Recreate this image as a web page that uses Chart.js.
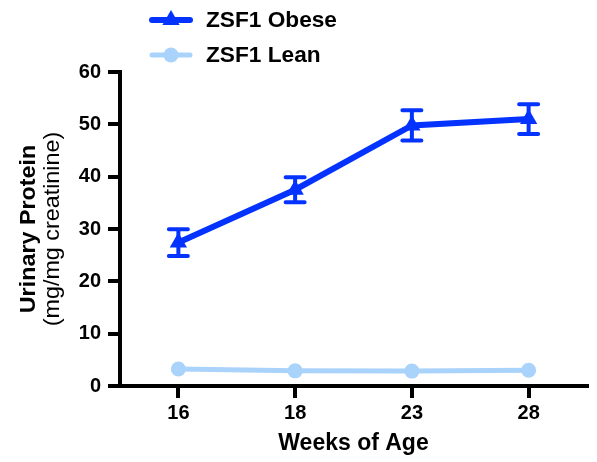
<!DOCTYPE html>
<html><head><meta charset="utf-8">
<script src="https://cdn.jsdelivr.net/npm/chart.js@4/dist/chart.umd.min.js"></script>
<style>html,body{margin:0;padding:0;background:#fff}</style>
</head><body>
<canvas id="c" width="597" height="462"></canvas>
<script>
// ---- data ----
const weeks = ['16', '18', '23', '28'];
const obeseMean = [27.4, 37.5, 49.8, 51.0];
const obeseErr = [2.55, 2.4, 2.9, 2.85];
const leanMean = [3.25, 2.9, 2.85, 3.0];
const seriesNames = ['ZSF1 Obese', 'ZSF1 Lean'];
const yMin = 0, yMax = 60, yStep = 10;
const xTitle = 'Weeks of Age';
const yTitle = ['Urinary Protein', '(mg/mg creatinine)'];

// ---- styles ----
const FONT = '"Liberation Sans", Arial, Helvetica, sans-serif';
const OBESE = '#0433FF';
const LEAN = '#A9D3FB';

const errorBars = {
  id: 'errorBars',
  afterDatasetsDraw(chart) {
    const ctx = chart.ctx, ys = chart.scales.y;
    chart.data.datasets.forEach((ds, i) => {
      if (!ds.errors) return;
      const meta = chart.getDatasetMeta(i);
      ctx.save();
      ctx.strokeStyle = ds.borderColor; ctx.lineWidth = 4; ctx.lineCap = 'round';
      meta.data.forEach((pt, j) => {
        const v = ds.data[j], e = ds.errors[j];
        const yt = ys.getPixelForValue(v + e), yb = ys.getPixelForValue(v - e);
        ctx.beginPath();
        ctx.moveTo(pt.x, yt); ctx.lineTo(pt.x, yb);
        ctx.moveTo(pt.x - 9.5, yt); ctx.lineTo(pt.x + 9.5, yt);
        ctx.moveTo(pt.x - 9.5, yb); ctx.lineTo(pt.x + 9.5, yb);
        ctx.stroke();
      });
      ctx.restore();
    });
  }
};

const customText = {
  id: 'customText',
  afterDraw(chart) {
    const ctx = chart.ctx;
    const ca = chart.chartArea;
    ctx.save();
    // legend
    const items = chart.data.datasets;
    const lx0 = 152, lx1 = 190, lxm = 171, tx = 206;
    const rows = [20, 55];
    items.forEach((ds, i) => {
      const y = rows[i];
      ctx.strokeStyle = ds.borderColor; ctx.lineWidth = ds.borderWidth; ctx.lineCap = 'round';
      ctx.beginPath(); ctx.moveTo(lx0, y); ctx.lineTo(lx1, y); ctx.stroke();
      ctx.fillStyle = ds.borderColor;
      ctx.beginPath();
      if (ds.pointStyle === 'triangle') {
        const r = ds.pointRadius;
        for (let k = 0; k < 3; k++) {
          const a = k * 2 * Math.PI / 3;
          const px = lxm + Math.sin(a) * r, py = y - Math.cos(a) * r;
          k ? ctx.lineTo(px, py) : ctx.moveTo(px, py);
        }
        ctx.closePath();
      } else {
        ctx.arc(lxm, y, ds.pointRadius, 0, Math.PI * 2);
      }
      ctx.fill();
      ctx.fillStyle = '#000';
      ctx.font = 'bold 22px ' + FONT;
      ctx.textBaseline = 'middle'; ctx.textAlign = 'left';
      ctx.save();
      ctx.translate(tx, y + 1);
      ctx.scale(1.03, 1);
      ctx.fillText(seriesNames[i], 0, 0);
      ctx.restore();
    });
    // y axis title
    const cy = (ca.top + ca.bottom) / 2;
    ctx.translate(0, cy);
    ctx.rotate(-Math.PI / 2);
    ctx.scale(1.06, 1);
    ctx.textAlign = 'center'; ctx.textBaseline = 'middle';
    ctx.font = 'bold 22px ' + FONT;
    ctx.fillText(yTitle[0], 0, 29);
    ctx.font = '22px ' + FONT;
    ctx.fillText(yTitle[1], 0, 53);
    ctx.restore();
  }
};

new Chart(document.getElementById('c'), {
  type: 'line',
  data: {
    labels: weeks,
    datasets: [
      { label: seriesNames[0], data: obeseMean, errors: obeseErr,
        borderColor: OBESE, backgroundColor: OBESE, borderWidth: 6,
        pointStyle: 'triangle', pointRadius: 10, pointBorderWidth: 0,
        pointBackgroundColor: OBESE, tension: 0, clip: false },
      { label: seriesNames[1], data: leanMean,
        borderColor: LEAN, backgroundColor: LEAN, borderWidth: 5,
        pointStyle: 'circle', pointRadius: 7.5, pointBorderWidth: 0,
        pointBackgroundColor: LEAN, tension: 0, clip: false }
    ]
  },
  options: {
    responsive: false, animation: false, devicePixelRatio: 1,
    layout: { padding: { left: 0, top: 72, right: 7, bottom: 0 } },
    plugins: { legend: { display: false }, tooltip: { enabled: false } },
    events: [],
    scales: {
      x: {
        offset: true,
        grid: { offset: false, drawOnChartArea: false, drawTicks: true, tickLength: 12, lineWidth: 4, color: '#000' },
        border: { display: true, width: 4, color: '#000' },
        ticks: { color: '#000', font: { family: FONT, size: 20, weight: 'bold' }, padding: 3, maxRotation: 0 },
        title: { display: true, text: xTitle, color: '#000', font: { family: FONT, size: 23, weight: 'bold' }, padding: { top: 0, bottom: 5 } },
        afterFit(s) { s.height = 76; }
      },
      y: {
        min: yMin, max: yMax,
        grid: { drawOnChartArea: false, drawTicks: true, tickLength: 12, lineWidth: 4, color: '#000' },
        border: { display: true, width: 4, color: '#000' },
        ticks: { stepSize: yStep, color: '#000', font: { family: FONT, size: 20, weight: 'bold' }, padding: 7 },
        afterFit(s) { s.width = 120; }
      }
    }
  },
  plugins: [errorBars, customText]
});
</script>
</body></html>
